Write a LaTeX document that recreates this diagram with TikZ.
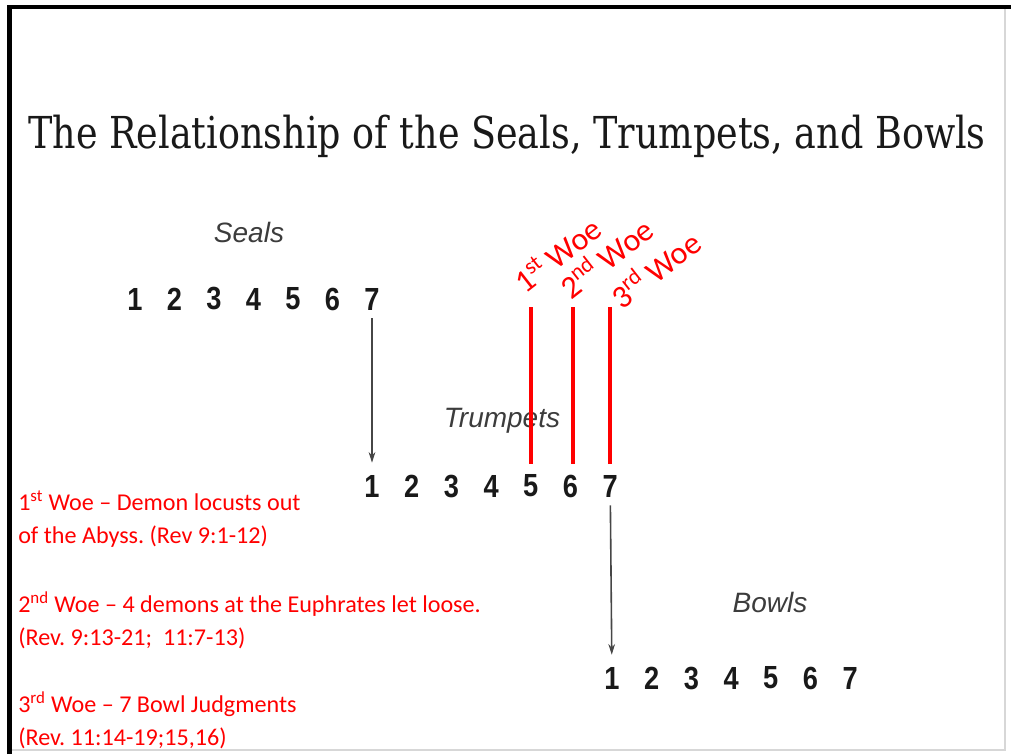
\documentclass[tikz,border=0pt]{standalone}
\usepackage{fontspec}
\setmainfont{Liberation Serif}
\setsansfont{Liberation Sans}
\newfontfamily\woefont{Carlito}
\newfontfamily\headfont{DejaVu Serif}
\usetikzlibrary{arrows.meta}
\definecolor{Ink}{RGB}{25,25,25}
\definecolor{LabelGray}{RGB}{60,60,60}
\definecolor{ArrowGray}{RGB}{70,70,70}
\definecolor{WoeRed}{RGB}{255,0,0}
\definecolor{EdgeGray}{RGB}{215,215,215}
\tikzset{
  >={Stealth[length=8pt,width=5pt]},
  title/.style={font=\headfont\fontsize{33}{40}\selectfont,text=Ink,anchor=base,inner sep=0pt,xscale=.83},
  group/.style={font=\sffamily\itshape\fontsize{21}{24}\selectfont,text=LabelGray,anchor=base,inner sep=0pt},
  digit/.style={font=\sffamily\bfseries\fontsize{24}{28}\selectfont,text=Ink,inner sep=0pt,xscale=.85},
  woe/.style={font=\woefont\fontsize{18.1}{24.75}\selectfont,text=WoeRed,align=left,anchor=base west,inner sep=0pt},
  woetag/.style={font=\woefont\fontsize{24}{28}\selectfont,text=WoeRed,rotate=38,anchor=base west,inner sep=0pt},
  next/.style={->,line width=1.2pt,draw=ArrowGray,shorten <=6pt,shorten >=9pt},
  woeline/.style={line width=3pt,draw=WoeRed,shorten <=8pt}
}
\begin{document}
\frenchspacing
\begin{tikzpicture}[x=.75pt,y=-.75pt]
  \useasboundingbox (0,0) rectangle (1011,754);
  % frame
  \draw[EdgeGray,line width=1pt] (1005,7) -- (1005,750) -- (9,750);
  \draw[black,line width=3.5pt] (9.5,754) -- (9.5,7) -- (1011,7);
  \node[title] (head) at (507,148) {The Relationship of the Seals, Trumpets, and Bowls};
  % the three series
  \node[group] (seals) at (249,242) {Seals};
  \node[group] (trumpets) at (502,427) {Trumpets};
  \node[group] (bowls) at (770,612) {Bowls};
  \foreach \i in {1,...,7} {
    \node[digit] (s\i) at ({135+39.5*(\i-1)},299) {\i};
    \node[digit] (t\i) at ({372+39.7*(\i-1)},486) {\i};
    \node[digit] (b\i) at ({612+39.7*(\i-1)},678) {\i};
  }
  \draw[next] (s7) -- (t1);
  \draw[next] (t7) -- (b1);
  % woes
  \coordinate (top) at (0,307);
  \draw[woeline] (t5.north) -- (t5.north |- top);
  \draw[woeline] ([xshift=1.5pt]t6.north) -- ([xshift=1.5pt]t6.north |- top);
  \draw[woeline] (t7.north) -- (t7.north |- top);
  \node[woetag] (tag1) at (525,295) {1\textsuperscript{st} Woe};
  \node[woetag] (tag2) at (571,301) {2\textsuperscript{nd} Woe};
  \node[woetag] (tag3) at (622,311) {3\textsuperscript{rd} Woe};
  \node[woe] (woeA) at (18,543) {1\textsuperscript{st} Woe – Demon locusts out\\of the Abyss. (Rev 9:1-12)};
  \node[woe] (woeB) at (18,645) {2\textsuperscript{nd} Woe – 4 demons at the Euphrates let loose.\\(Rev. 9:13-21;\ \ 11:7-13)};
  \node[woe] (woeC) at (18,745) {3\textsuperscript{rd} Woe – 7 Bowl Judgments\\(Rev. 11:14-19;15,16)};
\end{tikzpicture}
\end{document}
